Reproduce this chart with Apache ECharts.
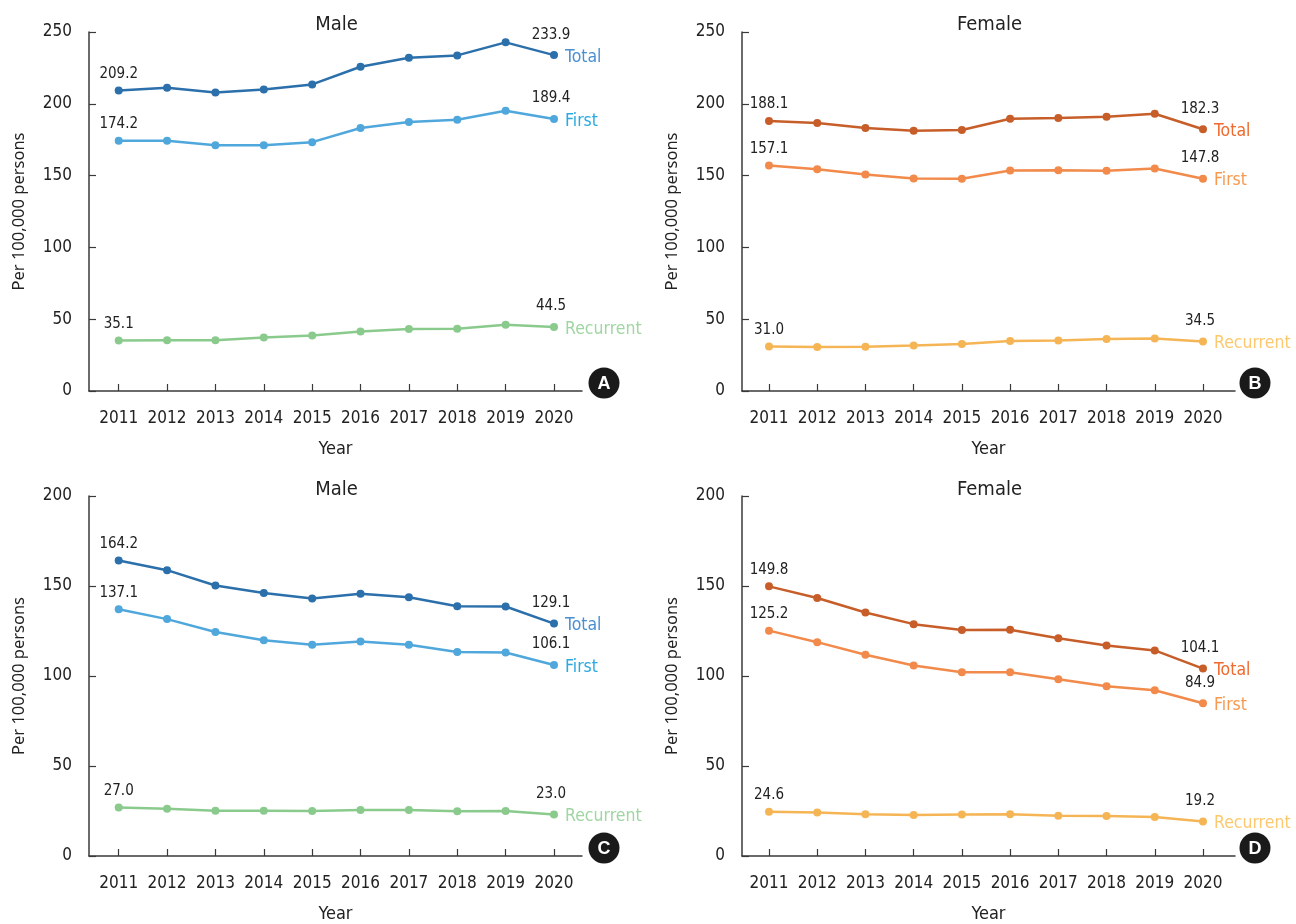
<!DOCTYPE html>
<html>
<head>
<meta charset="utf-8">
<script src="https://cdn.jsdelivr.net/npm/echarts@6/dist/echarts.min.js"></script>
<style>
  html, body { margin: 0; padding: 0; background: #ffffff; }
  #chart { width: 1296px; height: 924px; }
</style>
</head>
<body>
<div id="chart"></div>
<script>
// Years on the horizontal axis
const years = [2011, 2012, 2013, 2014, 2015, 2016, 2017, 2018, 2019, 2020];

// Upper row (per 100,000 persons)
const male1Total     = [209.2, 211.2, 207.9, 210.0, 213.5, 225.8, 232.1, 233.7, 242.8, 233.9];
const male1First     = [174.2, 174.3, 171.2, 171.2, 173.3, 183.1, 187.3, 188.9, 195.2, 189.4];
const male1Recurrent = [35.1, 35.3, 35.3, 37.2, 38.6, 41.4, 43.2, 43.4, 46.2, 44.5];
const female1Total     = [188.1, 186.6, 183.1, 181.2, 181.7, 189.6, 190.1, 191.0, 193.1, 182.3];
const female1First     = [157.1, 154.5, 150.8, 148.0, 147.8, 153.6, 153.8, 153.3, 155.0, 147.8];
const female1Recurrent = [31.0, 30.7, 30.9, 31.6, 32.8, 34.9, 35.1, 36.2, 36.5, 34.5];

// Lower row (per 100,000 persons)
const male2Total     = [164.2, 158.8, 150.3, 146.1, 143.1, 145.7, 143.8, 138.8, 138.6, 129.1];
const male2First     = [137.1, 131.6, 124.4, 119.9, 117.3, 119.2, 117.3, 113.3, 113.1, 106.1];
const male2Recurrent = [27.0, 26.3, 25.2, 25.2, 25.0, 25.6, 25.6, 24.8, 25.0, 23.0];
const female2Total     = [149.8, 143.3, 135.3, 128.8, 125.5, 125.7, 121.0, 117.0, 114.2, 104.1];
const female2First     = [125.2, 118.8, 111.8, 105.8, 102.1, 102.1, 98.2, 94.3, 92.1, 84.9];
const female2Recurrent = [24.6, 24.1, 23.2, 22.8, 23.0, 23.2, 22.4, 22.2, 21.7, 19.2];

// Panel headings, y-axis ticks and badge letters
const panelTitles = ['Male', 'Female', 'Male', 'Female'];
const panelLetters = ['A', 'B', 'C', 'D'];
const yMax = [250, 250, 200, 200];
const yStep = 50;
const seriesNames = ['Total', 'First', 'Recurrent'];

const NARROW = "'DejaVu Sans Condensed', 'Liberation Sans', sans-serif";
const WIDE = "'Noto Sans', 'Open Sans', sans-serif";
const AXIS_COLOR = '#3a3a3a';

const maleLine = ['#2b6fab', '#4fa7dc', '#8acb8d'];
const maleText = ['#4b8fd0', '#2aa9e2', '#9fd6a2'];
const femaleLine = ['#c75e29', '#f18a4a', '#f5b555'];
const femaleText = ['#ee6a2e', '#f7994f', '#fcc96e'];

// Grid boxes and x extents (in years) for each panel
const grids = [
  { left: 89,  top: 32,  width: 493, height: 359 },
  { left: 742, top: 32,  width: 493, height: 359 },
  { left: 89,  top: 496, width: 493, height: 360 },
  { left: 742, top: 496, width: 493, height: 360 }
];
const xExtent = [
  [2010.386, 2020.579],
  [2010.44, 2020.664],
  [2010.386, 2020.579],
  [2010.44, 2020.664]
];

const panels = [
  { values: [male1Total, male1First, male1Recurrent], line: maleLine, text: maleText },
  { values: [female1Total, female1First, female1Recurrent], line: femaleLine, text: femaleText },
  { values: [male2Total, male2First, male2Recurrent], line: maleLine, text: maleText },
  { values: [female2Total, female2First, female2Recurrent], line: femaleLine, text: femaleText }
];

const xAxes = grids.map((g, i) => ({
  type: 'value',
  gridIndex: i,
  min: xExtent[i][0],
  max: xExtent[i][1],
  name: 'Year',
  nameLocation: 'middle',
  nameGap: 49,
  nameTextStyle: { fontFamily: NARROW, fontSize: 18, color: '#222' },
  axisLine: { show: true, onZero: false, lineStyle: { color: AXIS_COLOR, width: 1.5 } },
  axisTick: { show: true, inside: true, length: 7, customValues: years, lineStyle: { color: AXIS_COLOR, width: 1.2 } },
  axisLabel: {
    customValues: years,
    showMinLabel: true,
    showMaxLabel: true,
    hideOverlap: false,
    margin: 19,
    fontFamily: NARROW,
    fontSize: 17,
    color: '#222',
    formatter: (v) => String(Math.round(v))
  },
  splitLine: { show: false }
}));

const yAxes = grids.map((g, i) => ({
  type: 'value',
  gridIndex: i,
  min: 0,
  max: yMax[i],
  interval: yStep,
  name: 'Per 100,000 persons',
  nameLocation: 'middle',
  nameGap: 61,
  nameTextStyle: { fontFamily: WIDE, fontSize: 16.5, color: '#222' },
  axisLine: { show: true, onZero: false, lineStyle: { color: AXIS_COLOR, width: 1.5 } },
  axisTick: { show: true, inside: true, length: 7, lineStyle: { color: AXIS_COLOR, width: 1.2 } },
  axisLabel: { margin: 17, fontFamily: NARROW, fontSize: 17, color: '#222' },
  splitLine: { show: false }
}));

const series = [];
panels.forEach((p, pi) => {
  p.values.forEach((vals, si) => {
    const last = vals.length - 1;
    const data = vals.map((v, k) => {
      const item = { value: [years[k], v] };
      if (k === 0) {
        item.label = { show: true, position: 'top', distance: 5 };
      } else if (k === last) {
        item.label = { show: true, position: 'top', distance: 9, offset: [-3, 0] };
      }
      return item;
    });
    series.push({
      type: 'line',
      name: seriesNames[si],
      xAxisIndex: pi,
      yAxisIndex: pi,
      data: data,
      symbol: 'circle',
      symbolSize: 8,
      lineStyle: { color: p.line[si], width: 2.5 },
      itemStyle: { color: p.line[si] },
      label: {
        show: false,
        fontFamily: NARROW,
        fontSize: 15,
        color: '#222',
        formatter: (d) => d.value[1].toFixed(1)
      },
      endLabel: {
        show: true,
        formatter: seriesNames[si],
        fontFamily: NARROW,
        fontSize: 17.5,
        color: p.text[si],
        distance: 11,
        offset: [0, 2]
      },
      emphasis: { disabled: true },
      animation: false
    });
  });
});

const titles = grids.map((g, i) => ({
  text: panelTitles[i],
  left: g.left + g.width / 2 - 4,
  top: i < 2 ? 10 : 475,
  textAlign: 'center',
  textStyle: { fontFamily: NARROW, fontSize: 20, fontWeight: 'normal', color: '#222' }
}));

const badgeCenters = [[604, 383], [1255, 383], [604, 848], [1255, 848]];
const graphics = [];
badgeCenters.forEach((c, i) => {
  graphics.push({
    type: 'circle',
    shape: { cx: c[0], cy: c[1], r: 15.5 },
    style: { fill: '#1a1a1a' },
    z: 10
  });
  graphics.push({
    type: 'text',
    x: c[0],
    y: c[1] + 1,
    style: {
      text: panelLetters[i],
      fill: '#ffffff',
      font: "bold 18px 'Liberation Sans', sans-serif",
      textAlign: 'center',
      textVerticalAlign: 'middle'
    },
    z: 11
  });
});

const chart = echarts.init(document.getElementById('chart'), null, { renderer: 'canvas' });
chart.setOption({
  backgroundColor: '#ffffff',
  animation: false,
  title: titles,
  grid: grids,
  xAxis: xAxes,
  yAxis: yAxes,
  series: series,
  graphic: graphics
});
</script>
</body>
</html>
